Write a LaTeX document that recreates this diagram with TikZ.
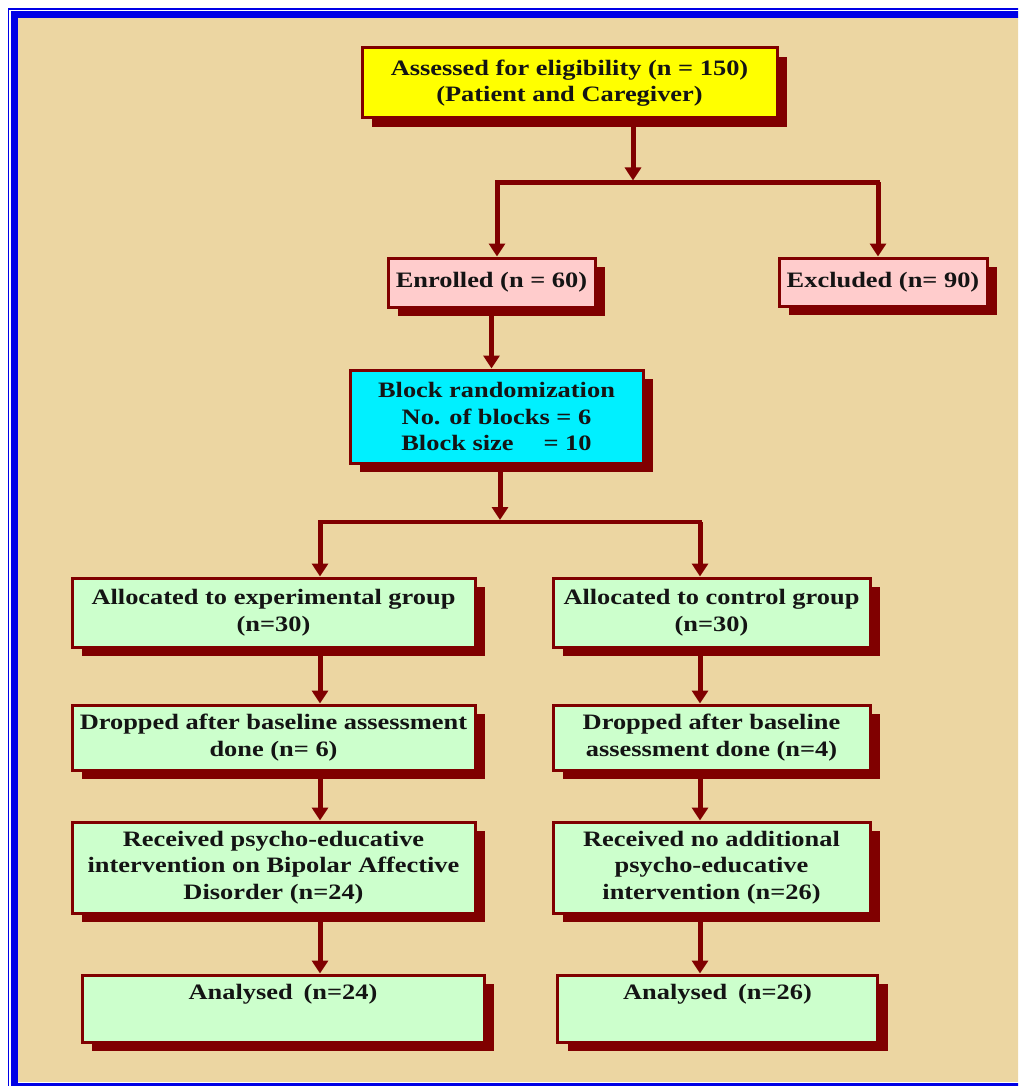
\documentclass[tikz,border=0pt]{standalone}
\usepackage{fontspec}
\setmainfont{Liberation Serif}[FakeStretch=1.2]
\usetikzlibrary{arrows.meta,shadows,calc}
\definecolor{dred}{RGB}{128,0,0}
\definecolor{papyrus}{RGB}{236,214,162}
\definecolor{bblue}{RGB}{0,0,230}
\definecolor{byellow}{RGB}{255,255,0}
\definecolor{bpink}{RGB}{255,204,204}
\definecolor{bcyan}{RGB}{0,240,255}
\definecolor{bgreen}{RGB}{204,255,204}
\begin{document}
\begin{tikzpicture}[x=1pt,y=-1pt,
  box/.style={draw=dred, line width=3pt, align=center, inner sep=2pt,
    font=\fontsize{22}{26.5}\selectfont\bfseries, text=black!92,
    general shadow={fill=dred, shadow xshift=10pt, shadow yshift=-9pt}},
  arr/.style={draw=dred, line width=5pt, -{Triangle[width=16pt,length=13pt]}},
  link/.style={draw=dred, line width=4.5pt, line cap=rect}]
\useasboundingbox (0,0) rectangle (1018,1086);
\begin{scope}
\clip (0,0) rectangle (1018,1086);
\fill[white] (0,0) rectangle (1018,1086);
\fill[papyrus] (17.5,17.5) rectangle (1040,1082);
\draw[bblue, line width=6.5pt] (14.25,14.5) rectangle (1050,1086);
\draw[bblue, line width=1.2pt] (8.5,9) rectangle (1060,1100);
\end{scope}

% boxes
\node[box, fill=byellow, minimum width=415pt, minimum height=70pt] (assess) at (569.5,83)
  {Assessed for eligibility (n = 150)\\(Patient and Caregiver)};
\node[box, fill=bpink, minimum width=207pt, minimum height=49pt] (enrolled) at (491.5,282.5)
  {Enrolled (n = 60)};
\node[box, fill=bpink, minimum width=208pt, minimum height=48pt] (excluded) at (883,282)
  {Excluded (n= 90)};
\node[box, fill=bcyan, minimum width=293pt, minimum height=93pt] (block) at (496.5,416.5)
  {Block randomization\\No. of blocks = 6\\Block size\hspace{30pt}= 10};

\node[box, fill=bgreen, minimum width=403pt, minimum height=69pt] (allocE) at (273.5,612.5)
  {Allocated to experimental group\\(n=30)};
\node[box, fill=bgreen, minimum width=317pt, minimum height=69pt] (allocC) at (711.5,612.5)
  {Allocated to control group\\(n=30)};
\node[box, fill=bgreen, minimum width=403pt, minimum height=65pt] (dropE) at (273.5,737.5)
  {Dropped after baseline assessment\\done (n= 6)};
\node[box, fill=bgreen, minimum width=317pt, minimum height=65pt] (dropC) at (711.5,737.5)
  {Dropped after baseline\\assessment done (n=4)};
\node[box, fill=bgreen, minimum width=403pt, minimum height=91pt] (recE) at (273.5,867.5)
  {Received psycho-educative\\intervention on Bipolar Affective\\Disorder (n=24)};
\node[box, fill=bgreen, minimum width=317pt, minimum height=91pt] (recC) at (711.5,867.5)
  {Received no additional\\psycho-educative\\intervention (n=26)};
\node[box, fill=bgreen, minimum width=402pt, minimum height=67pt] (anaE) at (283,1008.5)
  {Analysed\enspace(n=24)\\[6pt]\mbox{}};
\node[box, fill=bgreen, minimum width=320pt, minimum height=67pt] (anaC) at (717.5,1008.5)
  {Analysed\enspace(n=26)\\[6pt]\mbox{}};

% connectors
\coordinate (j1) at (633,182.5);
\coordinate (j1l) at (497,182.5);
\coordinate (j1r) at (878,182.5);
\draw[arr] (j1 |- assess.south) -- ($(j1)+(0,-2)$);
\draw[link] (j1l) -- (j1r);
\draw[arr] (j1l) -- (j1l |- enrolled.north);
\draw[arr] (j1r) -- (j1r |- excluded.north);
\draw[arr] (enrolled.south) -- (enrolled.south |- block.north);

\coordinate (j2) at (500,522);
\coordinate (j2l) at (320,522);
\coordinate (j2r) at (700,522);
\draw[arr] (j2 |- block.south) -- ($(j2)+(0,-2)$);
\draw[link] (j2l) -- (j2r);
\draw[arr] (j2l) -- (j2l |- allocE.north);
\draw[arr] (j2r) -- (j2r |- allocC.north);

\draw[arr] (j2l |- allocE.south) -- (j2l |- dropE.north);
\draw[arr] (j2l |- dropE.south) -- (j2l |- recE.north);
\draw[arr] (j2l |- recE.south) -- (j2l |- anaE.north);
\draw[arr] (j2r |- allocC.south) -- (j2r |- dropC.north);
\draw[arr] (j2r |- dropC.south) -- (j2r |- recC.north);
\draw[arr] (j2r |- recC.south) -- (j2r |- anaC.north);
\end{tikzpicture}
\end{document}
